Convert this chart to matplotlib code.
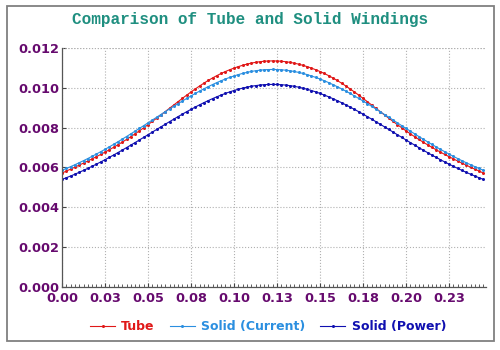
import numpy as np
import matplotlib
matplotlib.use("Agg")
import matplotlib.pyplot as plt
from matplotlib.patches import Rectangle
from matplotlib.ticker import MultipleLocator

# position along the winding, one sample every 0.0025
x_pos = [i * 0.0025 for i in range(99)]

tube = [
    0.005720, 0.005818, 0.005917, 0.006017, 0.006118, 0.006220, 0.006326, 0.006433, 0.006542, 0.006655,
    0.006771, 0.006889, 0.007013, 0.007140, 0.007270, 0.007406, 0.007546, 0.007691, 0.007839, 0.007993,
    0.008149, 0.008310, 0.008472, 0.008637, 0.008804, 0.008972, 0.009139, 0.009305, 0.009470, 0.009632,
    0.009790, 0.009943, 0.010091, 0.010232, 0.010367, 0.010493, 0.010610, 0.010718, 0.010817, 0.010906,
    0.010989, 0.011063, 0.011129, 0.011187, 0.011237, 0.011277, 0.011309, 0.011332, 0.011345, 0.011350,
    0.011345, 0.011332, 0.011309, 0.011277, 0.011237, 0.011187, 0.011129, 0.011063, 0.010989, 0.010906,
    0.010817, 0.010718, 0.010610, 0.010493, 0.010367, 0.010232, 0.010091, 0.009943, 0.009790, 0.009632,
    0.009470, 0.009305, 0.009139, 0.008972, 0.008804, 0.008637, 0.008472, 0.008310, 0.008149, 0.007993,
    0.007839, 0.007691, 0.007546, 0.007406, 0.007270, 0.007140, 0.007013, 0.006889, 0.006771, 0.006655,
    0.006542, 0.006433, 0.006326, 0.006220, 0.006118, 0.006017, 0.005917, 0.005818, 0.005720,
]

solid_current = [
    0.005860, 0.005949, 0.006042, 0.006138, 0.006239, 0.006342, 0.006449, 0.006560, 0.006674, 0.006791,
    0.006911, 0.007034, 0.007160, 0.007289, 0.007420, 0.007553, 0.007687, 0.007824, 0.007962, 0.008100,
    0.008240, 0.008380, 0.008520, 0.008659, 0.008798, 0.008935, 0.009071, 0.009206, 0.009337, 0.009466,
    0.009593, 0.009715, 0.009834, 0.009948, 0.010057, 0.010162, 0.010261, 0.010354, 0.010441, 0.010521,
    0.010595, 0.010662, 0.010722, 0.010774, 0.010818, 0.010855, 0.010883, 0.010904, 0.010916, 0.010920,
    0.010916, 0.010904, 0.010883, 0.010855, 0.010818, 0.010774, 0.010722, 0.010662, 0.010595, 0.010521,
    0.010441, 0.010354, 0.010261, 0.010162, 0.010057, 0.009948, 0.009834, 0.009715, 0.009593, 0.009466,
    0.009337, 0.009206, 0.009071, 0.008935, 0.008798, 0.008659, 0.008520, 0.008380, 0.008240, 0.008100,
    0.007962, 0.007824, 0.007687, 0.007553, 0.007420, 0.007289, 0.007160, 0.007034, 0.006911, 0.006791,
    0.006674, 0.006560, 0.006449, 0.006342, 0.006239, 0.006138, 0.006042, 0.005949, 0.005860,
]

solid_power = [
    0.005400, 0.005484, 0.005572, 0.005662, 0.005757, 0.005854, 0.005956, 0.006060, 0.006167, 0.006277,
    0.006391, 0.006507, 0.006626, 0.006747, 0.006870, 0.006996, 0.007123, 0.007251, 0.007381, 0.007512,
    0.007644, 0.007775, 0.007907, 0.008039, 0.008169, 0.008299, 0.008427, 0.008554, 0.008678, 0.008800,
    0.008919, 0.009034, 0.009146, 0.009253, 0.009357, 0.009455, 0.009548, 0.009636, 0.009718, 0.009794,
    0.009864, 0.009927, 0.009983, 0.010032, 0.010074, 0.010109, 0.010136, 0.010155, 0.010166, 0.010170,
    0.010166, 0.010155, 0.010136, 0.010109, 0.010074, 0.010032, 0.009983, 0.009927, 0.009864, 0.009794,
    0.009718, 0.009636, 0.009548, 0.009455, 0.009357, 0.009253, 0.009146, 0.009034, 0.008919, 0.008800,
    0.008678, 0.008554, 0.008427, 0.008299, 0.008169, 0.008039, 0.007907, 0.007775, 0.007644, 0.007512,
    0.007381, 0.007251, 0.007123, 0.006996, 0.006870, 0.006747, 0.006626, 0.006507, 0.006391, 0.006277,
    0.006167, 0.006060, 0.005956, 0.005854, 0.005757, 0.005662, 0.005572, 0.005484, 0.005400,
]

x_ticks = [0.0, 0.025, 0.05, 0.075, 0.1, 0.125, 0.15, 0.175, 0.2, 0.225]
x_tick_labels = ["0.00", "0.03", "0.05", "0.08", "0.10", "0.13", "0.15", "0.18", "0.20", "0.23"]
y_ticks = [0.0, 0.002, 0.004, 0.006, 0.008, 0.010, 0.012]
y_tick_labels = ["0.000", "0.002", "0.004", "0.006", "0.008", "0.010", "0.012"]

series = [
    ("Tube", tube, "#e01818"),
    ("Solid (Current)", solid_current, "#2b8fe0"),
    ("Solid (Power)", solid_power, "#1010b0"),
]

purple = "#660a6e"

fig = plt.figure(figsize=(5, 3.5), dpi=100)
fig.patches.append(Rectangle((0.013, 0.026), 0.974, 0.957, transform=fig.transFigure,
                             fill=False, edgecolor="#808080", linewidth=1.3))

ax = fig.add_axes([0.124, 0.18, 0.848, 0.683])

for name, vals, col in series:
    ax.plot(x_pos, vals, color=col, linewidth=0.8, marker="o", markersize=2.2,
            markeredgewidth=0, label=name)

ax.set_xlim(0, 0.2465)
ax.set_ylim(0, 0.012)
ax.set_xticks(x_ticks)
ax.set_xticklabels(x_tick_labels)
ax.set_yticks(y_ticks)
ax.set_yticklabels(y_tick_labels)
ax.xaxis.set_minor_locator(MultipleLocator(0.0025))

for lab in ax.get_xticklabels() + ax.get_yticklabels():
    lab.set_fontweight("bold")
    lab.set_color(purple)
    lab.set_fontsize(9.3)

ax.tick_params(axis="both", which="major", direction="in", length=3, width=0.8,
               color="#444444", pad=2)
ax.tick_params(axis="x", which="major", pad=3.5)
ax.tick_params(axis="x", which="minor", direction="in", length=2, width=0.6, color="#444444")

ax.grid(True, which="major", linestyle=":", color="#b0b0b0", linewidth=0.8)
ax.axhline(0.012, linestyle=":", color="#b0b0b0", linewidth=0.8)
for s in ["top", "right"]:
    ax.spines[s].set_visible(False)
for s in ["left", "bottom"]:
    ax.spines[s].set_color("#555555")
    ax.spines[s].set_linewidth(0.9)

fig.text(0.5, 0.943, "Comparison of Tube and Solid Windings", ha="center", va="center",
         family="Liberation Mono", fontweight="bold", fontsize=11.5, color="#1f8f80")

leg = fig.legend(loc="center", bbox_to_anchor=(0.536, 0.067), ncol=3, frameon=False,
                 handlelength=2.0, columnspacing=1.2, handletextpad=0.5,
                 prop={"weight": "bold", "size": 9})
for txt, (_, _, col) in zip(leg.get_texts(), series):
    txt.set_color(col)

fig.savefig("out.png", dpi=100)
